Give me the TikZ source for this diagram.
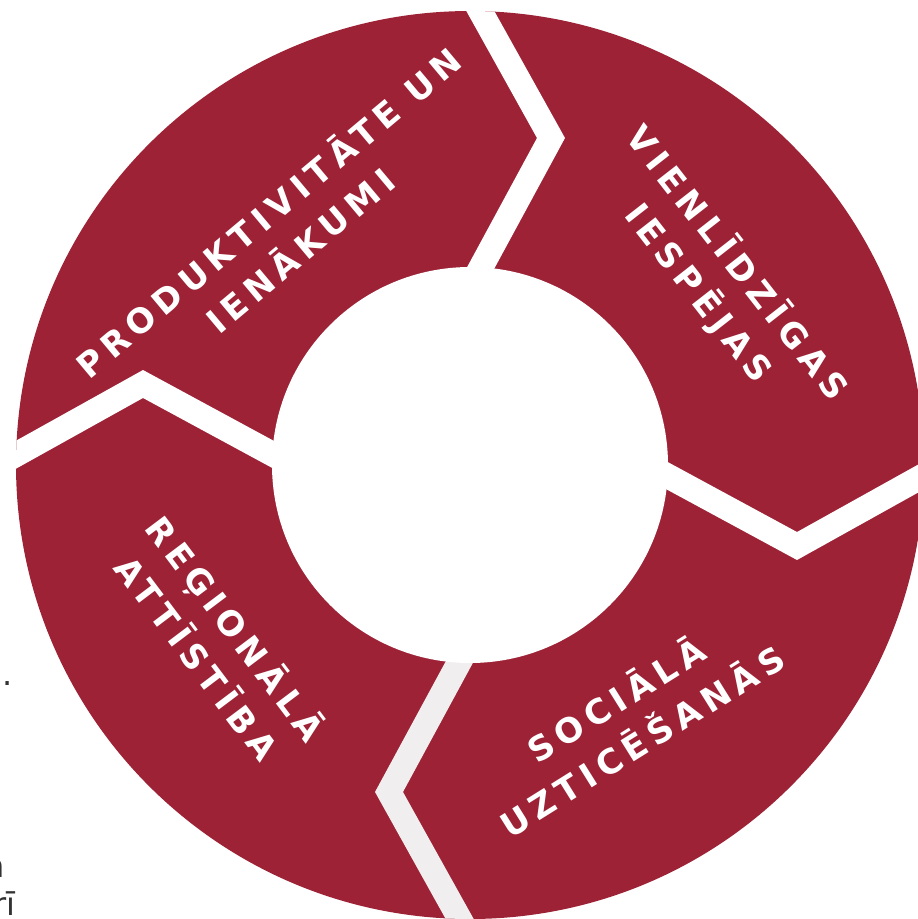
\documentclass[tikz,border=0pt]{standalone}
\usepackage{fontspec}
\setmainfont{DejaVu Sans}
\newfontfamily\lblfont[LetterSpace=18]{DejaVu Sans Bold}
\definecolor{ringred}{HTML}{9D2236}
\definecolor{gapgray}{HTML}{F0EEEF}
\definecolor{straytext}{HTML}{333333}
\tikzset{
  lbl/.style={text=white, align=center, inner sep=0pt,
    font=\lblfont\fontsize{34}{49}\selectfont},
  stray/.style={text=straytext, inner sep=0pt,
    font=\fontsize{32}{38}\selectfont},
  gapshape/.style={shift={(C)}}
}
\begin{document}
\begin{tikzpicture}[x=1pt,y=-1pt]
\useasboundingbox (0,0) rectangle (918,919);
\coordinate (C) at (470,465);
% ring
\fill[ringred] (C) circle (454pt);
\begin{scope}
  \clip (C) circle (454pt);
  \foreach \ang/\col in {0/white,-90/white,-180/gapgray,-270/white}{
    \fill[\col, gapshape, rotate=\ang]
      (-31,-146) -- (67,-327) -- (-31,-503) -- (-3,-503)
      -- (95,-327) -- (-3,-146) -- cycle;
  }
\end{scope}
\fill[white] (C) circle (198pt);
% labels
\node[lbl, rotate=40] (prod) at (283,230) {PRODUKTIVITĀTE UN\\IENĀKUMI};
\node[lbl, rotate=-52] (vien) at (718,278) {VIENLĪDZĪGAS\\IESPĒJAS};
\node[lbl, rotate=32] (soc) at (628,719) {SOCIĀLĀ\\UZTICĒŠANĀS};
\node[lbl, rotate=-53] (reg) at (218,642) {REĢIONĀLĀ\\ATTĪSTĪBA};
% stray text fragments at the left border
\node[stray, anchor=base east] (fa) at (13,685) {i.};
\node[stray, anchor=base east] (fb) at (5,877) {n};
\node[stray, anchor=base east] (fc) at (16,915) {rī};
\end{tikzpicture}
\end{document}
